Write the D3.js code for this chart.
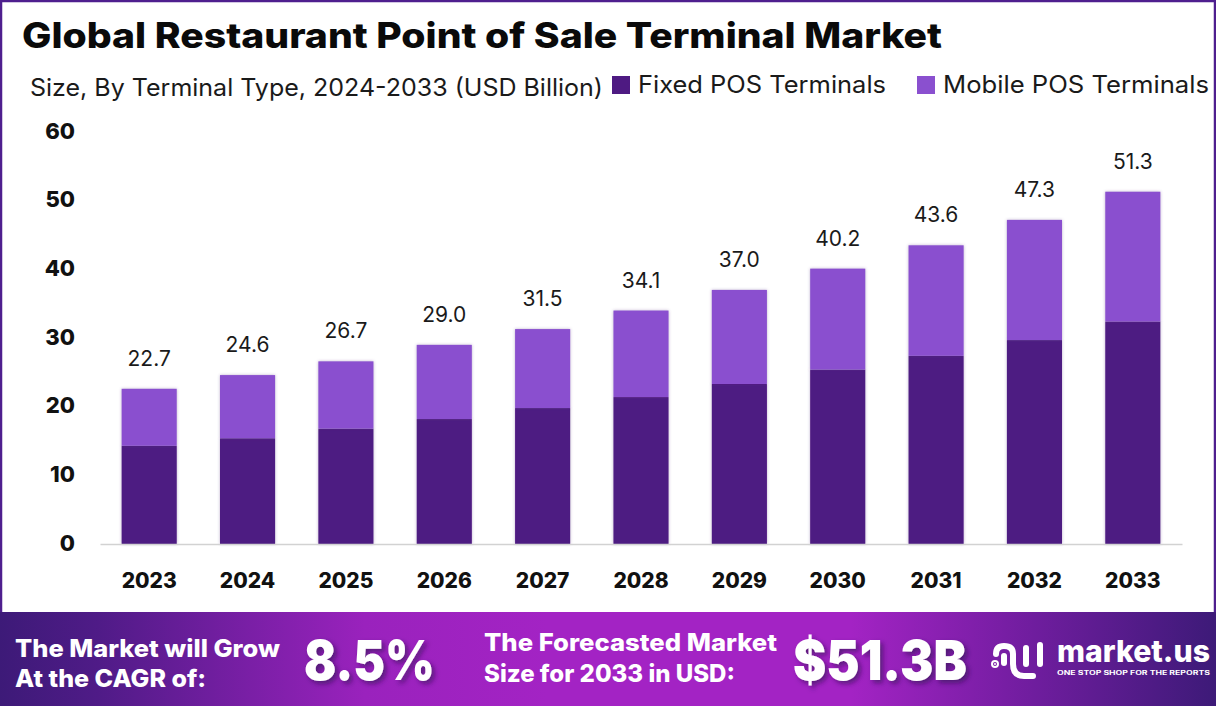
<!DOCTYPE html>
<html>
<head>
<meta charset="utf-8">
<script src="https://cdn.jsdelivr.net/npm/d3@7"></script>
<style>
  html, body { margin: 0; padding: 0; background: #fff; }
  svg { display: block; }
  text { font-family: Inter, "Open Sans", sans-serif; }
</style>
</head>
<body>
<div id="chart"></div>
<script>
const years = ['2023', '2024', '2025', '2026', '2027', '2028', '2029', '2030', '2031', '2032', '2033'];
const fixedPos = [14.3, 15.4, 16.8, 18.2, 19.8, 21.4, 23.3, 25.4, 27.4, 29.7, 32.4];
const mobilePos = [8.3, 9.2, 9.8, 10.8, 11.5, 12.6, 13.7, 14.7, 16.1, 17.5, 18.9];
const totals = ['22.7', '24.6', '26.7', '29.0', '31.5', '34.1', '37.0', '40.2', '43.6', '47.3', '51.3'];
const yTicks = [0, 10, 20, 30, 40, 50, 60];
const seriesNames = ['Fixed POS Terminals', 'Mobile POS Terminals'];
const seriesColors = ['#4e1a82', '#8a50cf'];

const width = 1216;
const height = 706;

const svg = d3.select('#chart').append('svg')
  .attr('width', width)
  .attr('height', height);

const defs = svg.append('defs');

const grad = defs.append('linearGradient').attr('id', 'footerGrad');
[[0, '#3d1a78'], [0.08, '#4f1b87'], [0.3, '#9a22bd'], [0.45, '#a323c4'], [0.7, '#a323c4'], [0.85, '#6f1d9e'], [1, '#3d1a78']]
  .forEach(([o, c]) => grad.append('stop').attr('offset', o).attr('stop-color', c));

const barShadow = defs.append('filter').attr('id', 'barShadow')
  .attr('x', '-10%').attr('y', '-5%').attr('width', '120%').attr('height', '110%');
barShadow.append('feDropShadow')
  .attr('dx', 0).attr('dy', 0).attr('stdDeviation', 1.5)
  .attr('flood-color', '#5a3a80').attr('flood-opacity', 0.4);

const textShadow = defs.append('filter').attr('id', 'textShadow')
  .attr('x', '-10%').attr('y', '-20%').attr('width', '125%').attr('height', '150%');
textShadow.append('feDropShadow')
  .attr('dx', 3).attr('dy', 3).attr('stdDeviation', 2.5)
  .attr('flood-color', '#2a0a50').attr('flood-opacity', 0.6);

// the reference font runs wider than Inter, so stretch to the measured widths
const fit = (sel, w) => sel.attr('textLength', w).attr('lengthAdjust', 'spacingAndGlyphs');

// frame
svg.append('rect')
  .attr('x', 1).attr('y', 1)
  .attr('width', width - 2).attr('height', 620)
  .attr('fill', '#fff').attr('stroke', '#4e1f8e').attr('stroke-width', 2.5);

// title block
svg.append('text')
  .attr('x', 22).attr('y', 48)
  .attr('font-size', 35).attr('font-weight', 800).attr('fill', '#0a0a0a')
  .text('Global Restaurant Point of Sale Terminal Market')
  .call(fit, 920);

svg.append('text')
  .attr('x', 30).attr('y', 96)
  .attr('font-size', 24).attr('font-weight', 400).attr('fill', '#1a1a1a')
  .text('Size, By Terminal Type, 2024-2033 (USD Billion)')
  .call(fit, 573);

// legend
const legendX = [612, 917];
const legendW = [248, 266];
seriesNames.forEach((name, i) => {
  svg.append('rect')
    .attr('x', legendX[i]).attr('y', 76)
    .attr('width', 18).attr('height', 18)
    .attr('fill', seriesColors[i]);
  svg.append('text')
    .attr('x', legendX[i] + 26).attr('y', 93)
    .attr('font-size', 24).attr('fill', '#1a1a1a')
    .text(name)
    .call(fit, legendW[i]);
});

// scales
const x = d3.scaleBand().domain(years).range([100, 1182]).paddingInner(0.44).paddingOuter(0.22);
const y = d3.scaleLinear().domain([0, 60]).range([544, 132]);

// stacked bars
const rows = years.map((year, i) => ({ year, fixed: fixedPos[i], mobile: mobilePos[i] }));
const stacked = d3.stack().keys(['fixed', 'mobile'])(rows);

svg.append('g').selectAll('g')
  .data(stacked)
  .join('g')
  .attr('fill', (d, i) => seriesColors[i])
  .attr('filter', 'url(#barShadow)')
  .selectAll('rect')
  .data(d => d)
  .join('rect')
  .attr('x', d => x(d.data.year))
  .attr('y', d => y(d[1]))
  .attr('width', x.bandwidth())
  .attr('height', d => y(d[0]) - y(d[1]));

// total labels
svg.append('g').selectAll('text')
  .data(rows)
  .join('text')
  .attr('x', d => x(d.year) + x.bandwidth() / 2)
  .attr('y', d => y(d.fixed + d.mobile) - 23)
  .attr('text-anchor', 'middle')
  .attr('font-size', 21).attr('fill', '#1a1a1a')
  .text((d, i) => totals[i]);

// x axis
const xAxis = svg.append('g')
  .attr('transform', 'translate(0,544)')
  .call(d3.axisBottom(x).tickSize(0).tickPadding(29));
xAxis.select('.domain').attr('stroke', '#d2d2d2').attr('stroke-width', 1.5);
xAxis.selectAll('text')
  .attr('font-size', 21).attr('font-weight', 800).attr('fill', '#111')
  .style('font-family', 'Inter');

// y axis
const yAxis = svg.append('g')
  .attr('transform', 'translate(75,-1)')
  .call(d3.axisLeft(y).tickValues(yTicks).tickSize(0).tickPadding(0));
yAxis.select('.domain').remove();
yAxis.selectAll('text')
  .attr('font-size', 22).attr('font-weight', 800).attr('fill', '#111')
  .style('font-family', 'Inter');

// footer band
svg.append('rect')
  .attr('x', 0).attr('y', 612)
  .attr('width', width).attr('height', 94)
  .attr('fill', 'url(#footerGrad)');

const footerText = ['The Market will Grow', 'At the CAGR of:', 'The Forecasted Market', 'Size for 2033 in USD:'];
const footerX = [15, 15, 484, 484];
const footerY = [657, 687, 651, 682];
const footerW = [265, 191, 293, 251];
footerText.forEach((t, i) => {
  svg.append('text')
    .attr('x', footerX[i]).attr('y', footerY[i])
    .attr('font-size', 24).attr('font-weight', 800).attr('fill', '#fff')
    .text(t)
    .call(fit, footerW[i]);
});

svg.append('text')
  .attr('x', 304).attr('y', 680)
  .attr('font-size', 55).attr('font-weight', 900).attr('fill', '#fff')
  .attr('filter', 'url(#textShadow)')
  .text('8.5%')
  .call(fit, 131);

svg.append('text')
  .attr('x', 793).attr('y', 680)
  .attr('font-size', 55).attr('font-weight', 900).attr('fill', '#fff')
  .attr('filter', 'url(#textShadow)')
  .text('$51.3B')
  .call(fit, 174);

// market.us logo
const logo = svg.append('g')
  .attr('fill', 'none').attr('stroke', '#fff')
  .attr('stroke-width', 6).attr('stroke-linecap', 'round');
logo.append('path').attr('d', 'M996,654 Q996,646 1004,646 Q1013,646 1013,654 L1013,664 Q1013,676 1024,676 L1033,676');
logo.append('path').attr('d', 'M1004,656 L1004,663');
logo.append('path').attr('d', 'M1026,648 L1026,664');
logo.append('path').attr('d', 'M1040,645 L1040,664');
logo.append('circle').attr('cx', 995).attr('cy', 664).attr('r', 1).attr('fill', '#fff');

svg.append('text')
  .attr('x', 1057).attr('y', 662)
  .attr('font-size', 30).attr('font-weight', 800).attr('fill', '#fff')
  .text('market.us')
  .call(fit, 153);
svg.append('text')
  .attr('x', 1057).attr('y', 675)
  .attr('font-size', 5.5).attr('font-weight', 700).attr('fill', '#fff')
  .text('ONE STOP SHOP FOR THE REPORTS')
  .call(fit, 153);
</script>
</body>
</html>
